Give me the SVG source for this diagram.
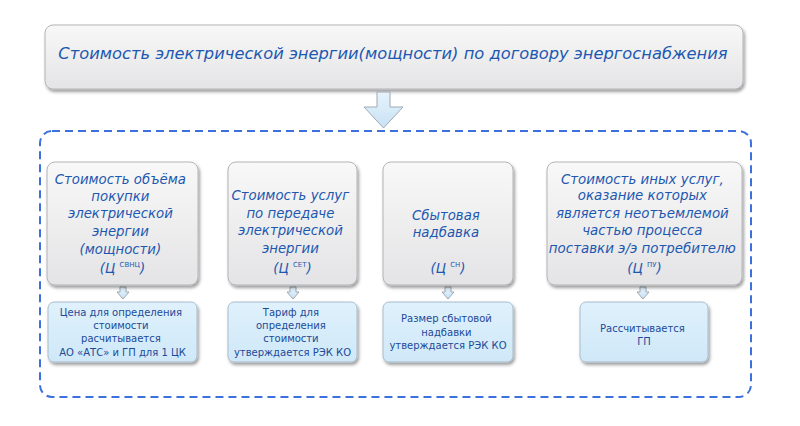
<svg xmlns="http://www.w3.org/2000/svg" width="800" height="426" viewBox="0 0 800 426">
<defs>
<linearGradient id="gGray" x1="0" y1="0" x2="0" y2="1">
<stop offset="0" stop-color="#f8f8f8"/><stop offset="1" stop-color="#e4e4e6"/>
</linearGradient>
<linearGradient id="gBlue" x1="0" y1="0" x2="0" y2="1">
<stop offset="0" stop-color="#dff1fc"/><stop offset="1" stop-color="#cfe8f8"/>
</linearGradient>
<linearGradient id="gArrow" x1="0" y1="0" x2="0" y2="1">
<stop offset="0" stop-color="#e6f3fc"/><stop offset="1" stop-color="#c8e2f5"/>
</linearGradient>
<filter id="sh" x="-10%" y="-10%" width="125%" height="135%">
<feDropShadow dx="1.5" dy="2.5" stdDeviation="1.8" flood-color="#000" flood-opacity="0.38"/>
</filter>
</defs>
<style>
.gbox{fill:url(#gGray);stroke:#b4b4b8;stroke-width:1;filter:url(#sh)}
.bbox{fill:url(#gBlue);stroke:#a9bccb;stroke-width:1;filter:url(#sh)}
.t1{font-family:"DejaVu Sans",Verdana,sans-serif;font-style:italic;fill:#1d58b0;text-anchor:middle}
.t2{font-family:"DejaVu Sans",Verdana,sans-serif;fill:#1c4a98;text-anchor:middle;font-size:10px}
.sup{font-style:normal;font-size:7px}
.arr{fill:url(#gArrow);stroke:#9fa9b3;stroke-width:1}
.frame{fill:none;stroke:#3b70dd;stroke-width:2;stroke-dasharray:8 5}
</style>

<rect class="frame" x="40" y="131" width="711" height="266" rx="12"/>

<g id="top">
<rect class="gbox" x="45" y="25" width="698" height="64" rx="8"/>
<text class="t1" x="393" y="59" font-size="16.3">Стоимость электрической энергии(мощности) по договору энергоснабжения</text>
</g>

<g id="connectors">
<path class="arr" d="M377,92 H390 V107 H403 L383.5,128 L364,107 H377 Z"/>
<path class="arr" d="M120,287 H126 V292 H129 L123,299 L117,292 H120 Z"/>
<path class="arr" d="M290,287 H296 V292 H299 L293,299 L287,292 H290 Z"/>
<path class="arr" d="M445,287 H451 V292 H454 L448,299 L442,292 H445 Z"/>
<path class="arr" d="M640,287 H646 V292 H649 L643,299 L637,292 H640 Z"/>
</g>

<g id="n1">
<rect class="gbox" x="47" y="162" width="151" height="123" rx="8"/>
<text class="t1" font-size="13.3">
<tspan x="122.5" y="184">Стоимость объёма</tspan>
<tspan x="122.5" y="201">покупки</tspan>
<tspan x="122.5" y="218">электрической</tspan>
<tspan x="122.5" y="236">энергии</tspan>
<tspan x="122.5" y="254">(мощности)</tspan>
<tspan x="122.5" y="273">(Ц <tspan class="sup" dy="-6">СВНЦ</tspan><tspan dy="6">)</tspan></tspan>
</text>
</g>

<g id="n2">
<rect class="gbox" x="228" y="162" width="129" height="123" rx="8"/>
<text class="t1" font-size="13.3">
<tspan x="292.5" y="200">Стоимость услуг</tspan>
<tspan x="292.5" y="218">по передаче</tspan>
<tspan x="292.5" y="235">электрической</tspan>
<tspan x="292.5" y="253">энергии</tspan>
<tspan x="292.5" y="273">(Ц <tspan class="sup" dy="-6">СЕТ</tspan><tspan dy="6">)</tspan></tspan>
</text>
</g>

<g id="n3">
<rect class="gbox" x="383" y="162" width="130" height="123" rx="8"/>
<text class="t1" font-size="13.3">
<tspan x="448" y="220">Сбытовая</tspan>
<tspan x="448" y="237">надбавка</tspan>
<tspan x="448" y="273">(Ц <tspan class="sup" dy="-6">СН</tspan><tspan dy="6">)</tspan></tspan>
</text>
</g>

<g id="n4">
<rect class="gbox" x="547" y="162" width="195" height="123" rx="8"/>
<text class="t1" font-size="13.4">
<tspan x="644.5" y="184">Стоимость иных услуг,</tspan>
<tspan x="644.5" y="200">оказание которых</tspan>
<tspan x="644.5" y="218">является неотъемлемой</tspan>
<tspan x="644.5" y="235">частью процесса</tspan>
<tspan x="644.5" y="253">поставки э/э потребителю</tspan>
<tspan x="644.5" y="273">(Ц <tspan class="sup" dy="-6">ПУ</tspan><tspan dy="6">)</tspan></tspan>
</text>
</g>

<g id="n1b">
<rect class="bbox" x="48" y="302" width="149" height="60" rx="6"/>
<text class="t2">
<tspan x="122.5" y="316">Цена для определения</tspan>
<tspan x="122.5" y="329">стоимости</tspan>
<tspan x="122.5" y="342">расчитывается</tspan>
<tspan x="122.5" y="356">АО «АТС» и ГП для 1 ЦК</tspan>
</text>
</g>

<g id="n2b">
<rect class="bbox" x="228" y="302" width="129" height="60" rx="6"/>
<text class="t2">
<tspan x="292.5" y="316">Тариф для</tspan>
<tspan x="292.5" y="329">определения</tspan>
<tspan x="292.5" y="342">стоимости</tspan>
<tspan x="292.5" y="356">утверждается РЭК КО</tspan>
</text>
</g>

<g id="n3b">
<rect class="bbox" x="383" y="302" width="130" height="60" rx="6"/>
<text class="t2">
<tspan x="448" y="322">Размер сбытовой</tspan>
<tspan x="448" y="336">надбавки</tspan>
<tspan x="448" y="349">утверждается РЭК КО</tspan>
</text>
</g>

<g id="n4b">
<rect class="bbox" x="580" y="302" width="128" height="60" rx="6"/>
<text class="t2">
<tspan x="644" y="332">Рассчитывается</tspan>
<tspan x="644" y="345">ГП</tspan>
</text>
</g>
</svg>
